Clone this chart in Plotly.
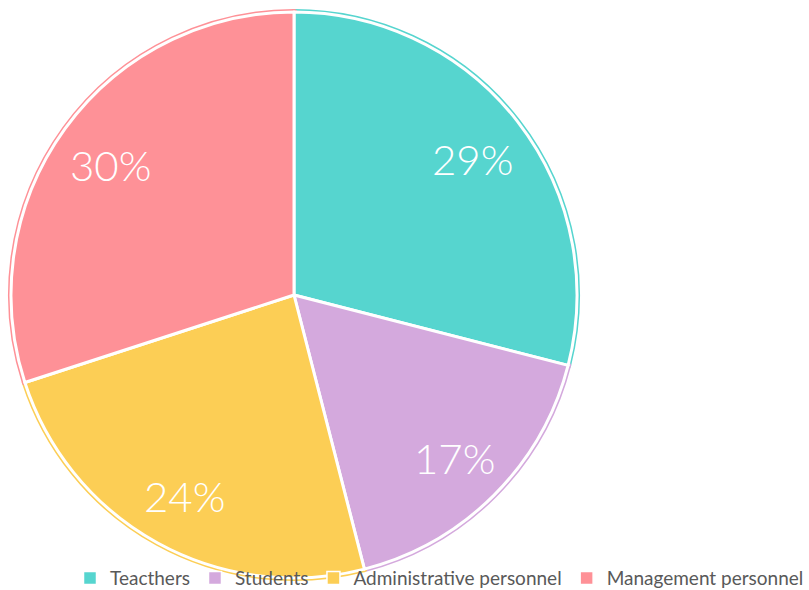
import math
import plotly.graph_objects as go

# Staff composition
labels = ["Teacthers", "Students", "Administrative personnel", "Management personnel"]
values = [29, 17, 24, 30]
colors = ["#56D5CF", "#D4A9DD", "#FCCE55", "#FE9197"]

W, H = 809, 590
cx_px, cy_px, R = 294, 295, 283

dom_x = [(cx_px - R) / W, (cx_px + R) / W]
dom_y = [1 - (cy_px + R) / H, 1 - (cy_px - R) / H]

fig = go.Figure()

# Back layer: coloured outline just outside each slice
fig.add_trace(go.Pie(
    labels=labels, values=values, sort=False, direction="clockwise", rotation=0,
    marker=dict(colors=colors, line=dict(color=colors, width=6)),
    textinfo="none", hoverinfo="skip", showlegend=False, domain=dict(x=dom_x, y=dom_y),
))
# Front layer: slices with white separators
fig.add_trace(go.Pie(
    labels=labels, values=values, sort=False, direction="clockwise", rotation=0,
    marker=dict(colors=colors, line=dict(color="white", width=3)),
    textinfo="none", showlegend=False, domain=dict(x=dom_x, y=dom_y),
))

# Legend entries: square swatches with a white rim
for name, c in zip(labels, colors):
    fig.add_trace(go.Scatter(
        x=[None], y=[None], mode="markers", name=name, hoverinfo="skip",
        marker=dict(symbol="square", size=13, color=c, line=dict(color="white", width=1.5)),
    ))

# Percentage labels placed along each slice's mid-angle
total = sum(values)
cum = 0
for v in values:
    mid = (cum + v / 2) / total * 2 * math.pi
    cum += v
    r = 0.80 * R
    x = (cx_px + r * math.sin(mid)) / W
    y = 1 - (cy_px - r * math.cos(mid) + 3) / H
    fig.add_annotation(x=x, y=y, xref="paper", yref="paper", showarrow=False,
                       xanchor="center", yanchor="middle",
                       text=f"{round(v / total * 100)}%",
                       font=dict(family="Lato", size=42, color="white", weight=300))

fig.update_layout(
    width=W, height=H,
    margin=dict(l=0, r=0, t=0, b=0, autoexpand=False),
    paper_bgcolor="white", plot_bgcolor="rgba(0,0,0,0)",
    xaxis=dict(visible=False), yaxis=dict(visible=False),
    legend=dict(orientation="h", x=1.0, xanchor="right", y=-0.012, yanchor="bottom",
                bgcolor="rgba(0,0,0,0)", font=dict(family="Lato", size=19, color="#595959"),
                itemwidth=30, traceorder="normal"),
)

fig.write_html("out.html")
